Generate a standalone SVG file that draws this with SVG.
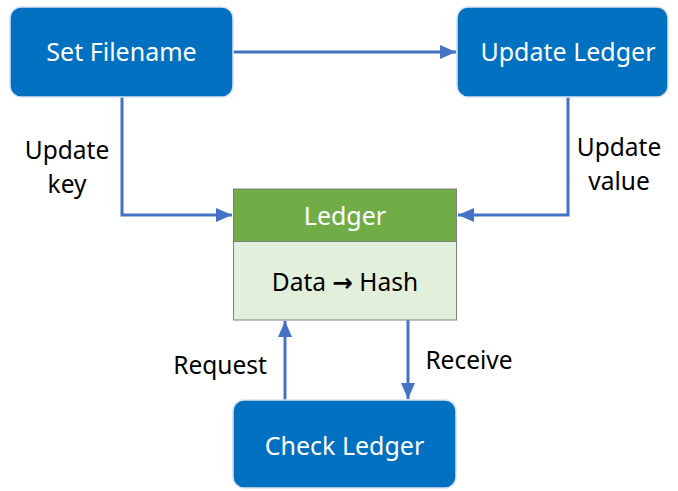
<svg xmlns="http://www.w3.org/2000/svg" width="678" height="491" viewBox="0 0 678 491">
<style>
.blue{fill:#0070C0;stroke:#D9E2F0;stroke-width:1.5}
.wt{fill:#FFFFFF;font-family:"Noto Sans","Open Sans",sans-serif;font-size:25px;text-anchor:middle}
.bt{fill:#000000;font-family:"Noto Sans","Open Sans",sans-serif;font-size:24.5px;text-anchor:middle}
.arr{font-family:"DejaVu Sans",sans-serif;font-weight:bold}
.conn{fill:none;stroke:#4472C4;stroke-width:3}
</style>
<defs>
<marker id="ah" markerUnits="userSpaceOnUse" markerWidth="18" markerHeight="18" viewBox="0 0 18 18" refX="17" refY="9" orient="auto">
<path d="M1,2 L17,9 L1,16 Z" fill="#4472C4"/>
</marker>
</defs>
<rect width="678" height="491" fill="#FFFFFF"/>
<g id="connectors">
<path class="conn" d="M233,52 L456,52" marker-end="url(#ah)"/>
<path class="conn" d="M122,97 L122,215 L232,215" marker-end="url(#ah)"/>
<path class="conn" d="M568,97 L568,215 L458,215" marker-end="url(#ah)"/>
<path class="conn" d="M285,400 L285,321" marker-end="url(#ah)"/>
<path class="conn" d="M408,320 L408,399" marker-end="url(#ah)"/>
</g>
<g id="set-filename">
<rect class="blue" x="10" y="7" width="223" height="90" rx="11"/>
<text class="wt" x="121.5" y="61">Set Filename</text>
</g>
<g id="update-ledger">
<rect class="blue" x="457" y="7" width="211" height="90" rx="11"/>
<text class="wt" x="568" y="61">Update Ledger</text>
</g>
<g id="ledger">
<rect x="233.5" y="189" width="223" height="52.5" fill="#70AD47" stroke="#7F7F7F" stroke-width="1"/>
<rect x="233.5" y="241.5" width="223" height="78.5" fill="#E2EFDA" stroke="#7F7F7F" stroke-width="1"/>
<text class="wt" x="345" y="225">Ledger</text>
<text class="bt" x="345" y="291">Data <tspan class="arr">→</tspan> Hash</text>
</g>
<g id="check-ledger">
<rect class="blue" x="233" y="400" width="223" height="88" rx="11"/>
<text class="wt" x="344.5" y="455">Check Ledger</text>
</g>
<g id="labels">
<text class="bt" x="67" y="159">Update</text>
<text class="bt" x="67" y="193">key</text>
<text class="bt" x="619" y="156">Update</text>
<text class="bt" x="619" y="190">value</text>
<text class="bt" x="220" y="374">Request</text>
<text class="bt" x="469" y="369">Receive</text>
</g>
</svg>
